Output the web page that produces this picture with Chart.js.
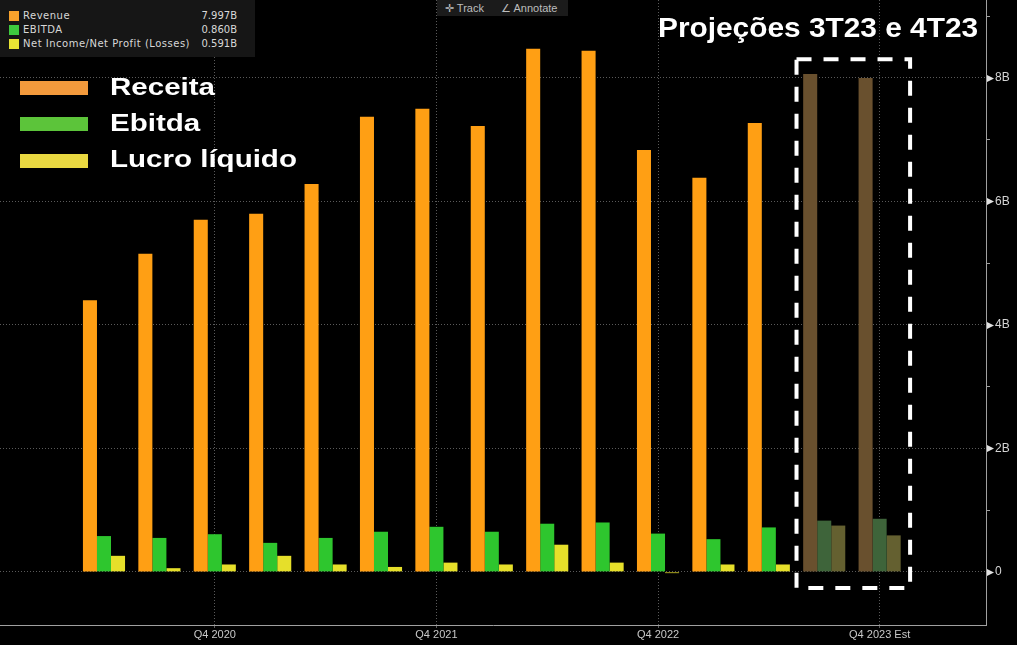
<!DOCTYPE html>
<html lang="pt-BR">
<head>
<meta charset="utf-8">
<title>Receita, Ebitda e Lucro líquido</title>
<script src="https://cdn.jsdelivr.net/npm/chart.js@4.4.1/dist/chart.umd.min.js"></script>
<style>
    html, body { margin: 0; padding: 0; background: #000; }
    #wrap { position: relative; width: 1017px; height: 645px; overflow: hidden; background: #000; font-family: "Liberation Sans", Arial, sans-serif; }
    #grafico { position: absolute; left: 0; top: 0; }
    .legenda-topo { position: absolute; left: 0; top: 0; width: 255px; height: 57px; background: #161616; color: #d8d8d8; font-family: "DejaVu Sans", sans-serif; font-size: 10px; letter-spacing: 0.5px; }
    .legenda-topo .linha { position: absolute; left: 9px; width: 228px; height: 14px; line-height: 14px; }
    .legenda-topo .cor { position: absolute; left: 0; top: 2px; width: 10px; height: 10px; }
    .legenda-topo .nome { position: absolute; left: 14px; }
    .legenda-topo .valor { position: absolute; right: 0; letter-spacing: 0; }
    .botoes { position: absolute; left: 437px; top: 0; width: 131px; height: 16px; background: #1b1b1b; color: #bdbdbd; font-size: 11px; line-height: 16px; }
    .botoes span { position: absolute; top: 0; }
    .grande { position: absolute; color: #fff; font-weight: bold; white-space: nowrap; line-height: 1; transform-origin: left top; }
    .barra { position: absolute; left: 20px; width: 68px; height: 14px; }
</style>
</head>
<body>
<div id="wrap">
    <canvas id="grafico" width="1017" height="645"></canvas>

    <div class="legenda-topo" id="legenda-topo"></div>

    <div class="botoes">
        <span style="left:8px">&#10011; Track</span>
        <span style="left:64px">&#8736; Annotate</span>
    </div>

    <div class="grande" id="titulo" style="left:658px; top:15px; font-size:27px; transform:scaleX(1.105)">Projeções 3T23 e 4T23</div>

    <div class="barra" style="top:81px; background:#f39a3c"></div>
    <div class="grande" style="left:110px; top:75px; font-size:24px; transform:scaleX(1.23)">Receita</div>
    <div class="barra" style="top:117px; background:#5cc43a"></div>
    <div class="grande" style="left:110px; top:111px; font-size:24px; transform:scaleX(1.23)">Ebitda</div>
    <div class="barra" style="top:154px; background:#e9d841"></div>
    <div class="grande" style="left:110px; top:147px; font-size:24px; transform:scaleX(1.23)">Lucro líquido</div>
</div>

<script>
// ========== DADOS (bilhões) ==========
const trimestres = ['Q2 2020', 'Q3 2020', 'Q4 2020', 'Q1 2021', 'Q2 2021', 'Q3 2021', 'Q4 2021',
                    'Q1 2022', 'Q2 2022', 'Q3 2022', 'Q4 2022', 'Q1 2023', 'Q2 2023', 'Q3 2023', 'Q4 2023'];
const estimado = [false, false, false, false, false, false, false, false, false, false, false, false, false, true, true];

const receita = [4.40, 5.15, 5.70, 5.80, 6.28, 7.37, 7.50, 7.22, 8.47, 8.44, 6.83, 6.38, 7.27, 8.06, 7.997];
const ebitda = [0.58, 0.55, 0.61, 0.47, 0.55, 0.65, 0.73, 0.65, 0.78, 0.80, 0.62, 0.53, 0.72, 0.83, 0.860];
const lucroLiquido = [0.26, 0.06, 0.12, 0.26, 0.12, 0.08, 0.15, 0.12, 0.44, 0.15, -0.02, 0.12, 0.12, 0.75, 0.591];

const ticksY = [0, 1, 2, 3, 4, 5, 6, 7, 8, 9];

const series = [
    { nome: 'Revenue', dados: receita, cor: '#ff9f14', corEst: '#69502e', corLegenda: '#f7a22c' },
    { nome: 'EBITDA', dados: ebitda, cor: '#2ec62e', corEst: '#3e643a', corLegenda: '#3ec93e' },
    { nome: 'Net Income/Net Profit (Losses)', dados: lucroLiquido, cor: '#e6df2a', corEst: '#646030', corLegenda: '#e7e334' }
];

// ========== LEGENDA DO TOPO ==========
function montarLegendaTopo() {
    const box = document.getElementById('legenda-topo');
    series.forEach((s, i) => {
        const ultimo = s.dados[s.dados.length - 1];
        const linha = document.createElement('div');
        linha.className = 'linha';
        linha.style.top = (9 + i * 14) + 'px';
        linha.innerHTML = `
            <div class="cor" style="background:${s.corLegenda}"></div>
            <span class="nome">${s.nome}</span>
            <span class="valor">${ultimo.toFixed(3)}B</span>
        `;
        box.appendChild(linha);
    });
}

// ========== PLUGINS ==========
// setinhas nos ticks principais do eixo da direita
const setasEixo = {
    id: 'setasEixo',
    afterDraw(chart) {
        const y = chart.scales.y;
        const ctx = chart.ctx;
        ctx.save();
        ctx.fillStyle = '#e0e0e0';
        ticksY.filter(v => v % 2 === 0).forEach(v => {
            const py = Math.round(y.getPixelForValue(v)) + 0.5;
            ctx.beginPath();
            ctx.moveTo(y.left + 1, py - 3.5);
            ctx.lineTo(y.left + 1, py + 3.5);
            ctx.lineTo(y.left + 8, py);
            ctx.closePath();
            ctx.fill();
        });
        ctx.restore();
    }
};

// caixa tracejada das projeções
const caixaProjecao = {
    id: 'caixaProjecao',
    afterDatasetsDraw(chart) {
        const x = chart.scales.x;
        const y = chart.scales.y;
        const idx = estimado.map((e, i) => e ? i : -1).filter(i => i >= 0);
        const x1 = x.getPixelForValue(idx[0] - 0.5);
        const x2 = x.getPixelForValue(idx[idx.length - 1] + 0.55);
        const y1 = y.getPixelForValue(8.3);
        const y2 = y.getPixelForValue(-0.26);
        const ctx = chart.ctx;
        ctx.save();
        ctx.strokeStyle = '#ffffff';
        ctx.lineWidth = 4;
        ctx.setLineDash([15, 12]);
        ctx.strokeRect(x1, y1, x2 - x1, y2 - y1);
        ctx.restore();
    }
};

// ========== GRÁFICO ==========
function criarGrafico() {
    const ctx = document.getElementById('grafico');

    new Chart(ctx, {
        type: 'bar',
        data: {
            datasets: series.map(s => ({
                label: s.nome,
                data: s.dados.map((v, i) => ({ x: i, y: v })),
                backgroundColor: s.dados.map((v, i) => estimado[i] ? s.corEst : s.cor),
                borderWidth: 0,
                barPercentage: 1,
                categoryPercentage: 0.76
            }))
        },
        options: {
            responsive: false,
            animation: false,
            layout: { padding: 0 },
            plugins: {
                legend: { display: false },
                tooltip: { enabled: false }
            },
            scales: {
                x: {
                    type: 'linear',
                    offset: false,
                    min: -1.877,
                    max: 15.92,
                    afterBuildTicks: (axis) => {
                        axis.ticks = trimestres
                            .map((t, i) => t.startsWith('Q4') ? { value: i } : null)
                            .filter(t => t);
                    },
                    afterFit: (axis) => {
                        axis.height = 20;
                        axis.paddingLeft = 0;
                        axis.paddingRight = 0;
                    },
                    ticks: {
                        color: '#c8c8c8',
                        font: { family: 'Liberation Sans, Arial', size: 11 },
                        padding: 0,
                        maxRotation: 0,
                        autoSkip: false,
                        callback: (v) => trimestres[v] + (estimado[v] ? ' Est' : '')
                    },
                    grid: {
                        offset: false,
                        color: '#5a5a5a',
                        lineWidth: 1,
                        tickLength: 3
                    },
                    border: { display: true, color: '#a0a0a0', width: 1, dash: [1, 2] }
                },
                y: {
                    position: 'right',
                    min: -0.86,
                    max: 9.26,
                    afterBuildTicks: (axis) => {
                        axis.ticks = ticksY.map(v => ({ value: v }));
                    },
                    afterFit: (axis) => {
                        axis.width = 31;
                        axis.paddingTop = 0;
                        axis.paddingBottom = 0;
                    },
                    ticks: {
                        color: '#d4d4d4',
                        font: { family: 'Liberation Sans, Arial', size: 12 },
                        padding: 5,
                        callback: (v) => v % 2 !== 0 ? '' : (v === 0 ? '0' : v + 'B')
                    },
                    grid: {
                        color: (c) => c.tick && c.tick.value % 2 === 0 ? '#5a5a5a' : 'rgba(0,0,0,0)',
                        tickColor: (c) => c.tick && c.tick.value % 2 !== 0 ? '#a0a0a0' : 'rgba(0,0,0,0)',
                        lineWidth: 1,
                        tickLength: 4
                    },
                    border: { display: true, color: '#a0a0a0', width: 1, dash: [1, 2] }
                }
            }
        },
        plugins: [caixaProjecao, setasEixo]
    });
}

document.addEventListener('DOMContentLoaded', () => {
    montarLegendaTopo();
    criarGrafico();
});
</script>
</body>
</html>
